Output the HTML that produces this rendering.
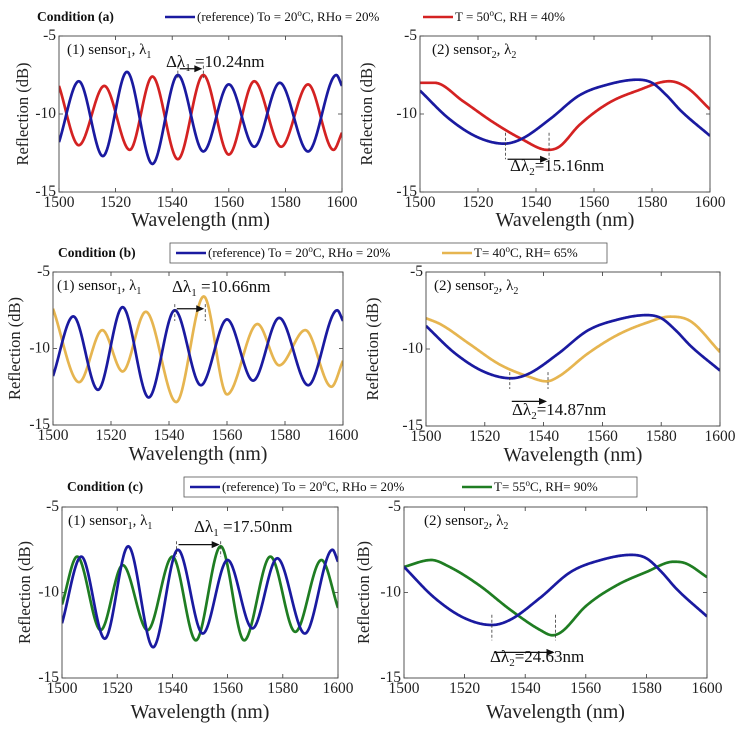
<!DOCTYPE html>
<html><head><meta charset="utf-8">
<style>
html,body{margin:0;padding:0;background:#fff;}
svg{display:block;font-family:"Liberation Serif",serif;}
</style></head>
<body>
<svg id="fig" width="744" height="736" viewBox="0 0 744 736" xmlns="http://www.w3.org/2000/svg"></svg>
<script>
// ---- data (wavelength nm, reflection dB) ----
const xTicks = [1500,1520,1540,1560,1580,1600];
const yTicks = [-5,-10,-15];
// sensor 1 reference (same in all conditions)
const s1RefX = [1500,1507,1515.5,1524,1533,1542,1551,1560,1569,1578,1588,1598,1600];
const s1RefY = [-11.8,-7.9,-12.7,-7.3,-13.2,-7.5,-12.4,-8.1,-12.1,-8.0,-12.4,-7.5,-8.2];
const s1AX = [1500,1507,1516,1525,1533,1542,1551,1560,1569,1578.5,1588,1597,1600];
const s1AY = [-8.2,-12.0,-8.2,-12.3,-7.6,-12.9,-7.5,-12.6,-7.9,-12.1,-8.1,-12.3,-11.2];
const s1BX = [1500,1509,1517,1524,1532,1542.5,1552,1560,1570.5,1578,1587,1596,1600];
const s1BY = [-7.4,-12.2,-8.8,-11.5,-7.6,-13.5,-6.6,-13.0,-8.4,-11.1,-8.8,-12.5,-10.8];
const s1CX = [1500,1505.5,1514,1522,1531,1540,1548.5,1557.5,1566,1575.5,1584.5,1594,1600];
const s1CY = [-10.7,-7.9,-12.2,-8.4,-12.2,-7.9,-12.8,-7.3,-12.8,-7.9,-12.3,-8.1,-10.9];
// sensor 2
const s2RefX = [1500,1510,1520,1529,1535,1545,1555,1565,1575,1580,1585,1590,1600];
const s2RefY = [-8.5,-10.3,-11.5,-11.9,-11.6,-10.3,-8.8,-8.1,-7.8,-8.0,-8.8,-9.8,-11.4];
const s2AX = [1500,1505,1515,1525,1535,1544,1548,1555,1565,1575,1586,1592,1600];
const s2AY = [-8.0,-8.0,-9.2,-10.5,-11.6,-12.3,-12.1,-10.7,-9.3,-8.5,-7.9,-8.3,-9.7];
const s2BX = [1500,1505,1515,1525,1535,1541,1545,1555,1565,1575,1583,1590,1600];
const s2BY = [-8.0,-8.4,-9.7,-11.0,-11.8,-12.1,-11.8,-10.3,-9.1,-8.3,-7.9,-8.2,-10.2];
const s2CX = [1500,1509,1515,1525,1535,1545,1549,1552,1560,1570,1580,1589,1593,1600];
const s2CY = [-8.5,-8.1,-8.5,-9.6,-11.0,-12.2,-12.5,-12.3,-10.8,-9.6,-8.8,-8.2,-8.3,-9.1];

const BLUE="#1a1aa0", RED="#d42222", YEL="#e6b550", GRN="#1f7d22";
const NS="http://www.w3.org/2000/svg";
const svg=document.getElementById('fig');
function mk(tag,attrs,parent,text){
  const e=document.createElementNS(NS,tag);
  for(const k in attrs) e.setAttribute(k,attrs[k]);
  if(text!==undefined) e.textContent=text;
  (parent||svg).appendChild(e); return e;
}
function mono(xs,ys){
  const n=xs.length,d=[],m=[];
  for(let i=0;i<n-1;i++) d.push((ys[i+1]-ys[i])/(xs[i+1]-xs[i]));
  m[0]=d[0]; m[n-1]=d[n-2];
  for(let i=1;i<n-1;i++){ m[i]=(d[i-1]*d[i]<=0)?0:(d[i-1]+d[i])/2; }
  return function(x){
    let i=0; while(i<n-2 && x>xs[i+1]) i++;
    const h=xs[i+1]-xs[i], t=(x-xs[i])/h, t2=t*t, t3=t2*t;
    return (2*t3-3*t2+1)*ys[i]+(t3-2*t2+t)*h*m[i]+(-2*t3+3*t2)*ys[i+1]+(t3-t2)*h*m[i+1];
  };
}
function panel(p){
  const g=mk('g',{});
  
  
  const sx=v=>p.x0+(v-1500)/100*(p.x1-p.x0);
  const sy=v=>p.yt+(-5-v)/10*(p.yb-p.yt);
  const clip='c'+p.name;
  const cp=mk('clipPath',{id:clip},g); mk('rect',{x:p.x0,y:p.yt,width:p.x1-p.x0,height:p.yb-p.yt},cp);
  xTicks.forEach(t=>{
    const x=sx(t);
    const tk=mk('path',{d:`M${x},${p.yb}v-4M${x},${p.yt}v4`,stroke:'#333','stroke-width':0.8},g);
     
    const l=mk('text',{x:x,y:p.yb+15,'text-anchor':'middle','font-size':15.5,fill:'#222'},g,String(t));
     
  });
  yTicks.forEach(t=>{
    const y=sy(t);
    mk('path',{d:`M${p.x0},${y}h4M${p.x1},${y}h-4`,stroke:'#333','stroke-width':0.8},g);
    const l=mk('text',{x:p.x0-3,y:y+4,'text-anchor':'end','font-size':15.5,fill:'#222'},g,String(t));
     
  });
  p.series.forEach(s=>{
    const f=mono(s.x,s.y); let d='';
    for(let w=1500;w<=1600.001;w+=0.25){ d+=(d?'L':'M')+sx(w).toFixed(2)+','+sy(f(w)).toFixed(2); }
    const pa=mk('path',{d:d,fill:'none',stroke:s.c,'stroke-width':2.7,'clip-path':`url(#${clip})`},g);
     
  });
  const fr=mk('rect',{x:p.x0,y:p.yt,width:p.x1-p.x0,height:p.yb-p.yt,fill:'none',stroke:'#444','stroke-width':0.9},g);
   
  const lb=mk('text',{x:p.x0+(p.lx||8),y:p.yt+18,'font-size':15,fill:'#111'},g);
   
  lb.innerHTML=`(${p.k}) sensor<tspan font-size="10" dy="4">${p.k}</tspan><tspan dy="-4">, λ</tspan><tspan font-size="10" dy="4">${p.k}</tspan>`;
  const a=p.ann;
  const ya1=sy(a.y1), ya2=sy(a.y2);
  mk('path',{d:`M${sx(a.w1)},${ya1}V${ya2}M${sx(a.w2)},${ya1}V${ya2}`,stroke:'#333','stroke-width':0.8,'stroke-dasharray':'3,2'},g);
  const ay=sy(a.ay);
  mk('path',{d:`M${sx(a.w1)+2},${ay}H${sx(a.w2)-7}`,stroke:'#111','stroke-width':1.2},g);
  mk('path',{d:`M${sx(a.w2)-1},${ay}l-8,-3.5v7z`,fill:'#111'},g);
  const at=mk('text',{x:a.tx,y:a.ty,'font-size':17,fill:'#111'},g);
   
  at.innerHTML=`Δλ<tspan font-size="11" dy="4">${p.k}</tspan><tspan dy="-4">${a.t}</tspan>`;
  const xl=mk('text',{x:(p.x0+p.x1)/2,y:p.yb+p.xlOff,'text-anchor':'middle','font-size':20,fill:'#222'},g,'Wavelength (nm)');
   
  const yl=mk('text',{x:0,y:0,'text-anchor':'middle','font-size':16.5,fill:'#222',transform:`translate(${p.ylx},${(p.yt+p.yb)/2}) rotate(-90)`},g,'Reflection (dB)');
   
}
function legend(L){
  const g=mk('g',{});
   
  const c=mk('text',{x:L.cx,y:L.y+4,'font-size':13.5,'font-weight':'bold',fill:'#111'},g,L.cond);
   
  if(L.box) mk('rect',{x:L.box[0],y:L.y-10,width:L.box[1]-L.box[0],height:20,fill:'#fff',stroke:'#555','stroke-width':0.8},g);
  mk('path',{d:`M${L.l1},${L.y}h30`,stroke:BLUE,'stroke-width':2.6},g);
  const t1=mk('text',{x:L.l1+32,y:L.y+4,'font-size':13,fill:'#111'},g);
   
  t1.innerHTML='(reference) To = 20<tspan font-size="9" dy="-5">o</tspan><tspan dy="5">C, RHo = 20%</tspan>';
  mk('path',{d:`M${L.l2},${L.y}h30`,stroke:L.c,'stroke-width':2.6},g);
  const t2=mk('text',{x:L.l2+32,y:L.y+4,'font-size':13,fill:'#111'},g);
   
  t2.innerHTML=`${L.t2a}<tspan font-size="9" dy="-5">o</tspan><tspan dy="5">${L.t2b}</tspan>`;
}
legend({name:'legend-a',cond:'Condition (a)',cx:37,y:17,l1:165,l2:423,c:RED,t2a:'T = 50',t2b:'C, RH = 40%'});
legend({name:'legend-b',cond:'Condition (b)',cx:58,y:253,box:[170,607],l1:176,l2:442,c:YEL,t2a:'T= 40',t2b:'C, RH= 65%'});
legend({name:'legend-c',cond:'Condition (c)',cx:67,y:487,box:[184,637],l1:190,l2:462,c:GRN,t2a:'T= 55',t2b:'C, RH= 90%'});

panel({name:'panel-a1',k:1,x0:59,x1:342,yt:36,yb:192,xlOff:34,ylx:28,
  series:[{x:s1AX,y:s1AY,c:RED,n:'line-a-sensor1'},{x:s1RefX,y:s1RefY,c:BLUE,n:'line-ref-sensor1'}],
  ann:{w1:1542,w2:1551,y1:-6.9,y2:-7.7,ay:-7.1,t:' =10.24nm',tx:166,ty:67}});
panel({name:'panel-a2',k:2,x0:420,x1:710,yt:36,yb:192,xlOff:34,ylx:372,lx:12,
  series:[{x:s2AX,y:s2AY,c:RED,n:'line-a-sensor2'},{x:s2RefX,y:s2RefY,c:BLUE,n:'line-ref-sensor2'}],
  ann:{w1:1529.5,w2:1544.5,y1:-11.2,y2:-12.9,ay:-12.9,t:'=15.16nm',tx:510,ty:171}});
panel({name:'panel-b1',k:1,x0:53,x1:343,yt:272,yb:425,xlOff:35,ylx:20,lx:4,
  series:[{x:s1BX,y:s1BY,c:YEL,n:'line-b-sensor1'},{x:s1RefX,y:s1RefY,c:BLUE,n:'line-ref-sensor1'}],
  ann:{w1:1542,w2:1552.5,y1:-7.1,y2:-8.2,ay:-7.4,t:' =10.66nm',tx:172,ty:292}});
panel({name:'panel-b2',k:2,x0:426,x1:720,yt:272,yb:426,xlOff:35,ylx:378,
  series:[{x:s2BX,y:s2BY,c:YEL,n:'line-b-sensor2'},{x:s2RefX,y:s2RefY,c:BLUE,n:'line-ref-sensor2'}],
  ann:{w1:1528.5,w2:1541.5,y1:-11.5,y2:-12.6,ay:-13.4,t:'=14.87nm',tx:512,ty:415}});
panel({name:'panel-c1',k:1,x0:62,x1:338,yt:507,yb:678,xlOff:40,ylx:30,lx:6,
  series:[{x:s1CX,y:s1CY,c:GRN,n:'line-c-sensor1'},{x:s1RefX,y:s1RefY,c:BLUE,n:'line-ref-sensor1'}],
  ann:{w1:1541.5,w2:1557.5,y1:-7.0,y2:-7.9,ay:-7.2,t:' =17.50nm',tx:194,ty:532}});
panel({name:'panel-c2',k:2,x0:404,x1:707,yt:507,yb:678,xlOff:40,ylx:369,lx:20,
  series:[{x:s2CX,y:s2CY,c:GRN,n:'line-c-sensor2'},{x:s2RefX,y:s2RefY,c:BLUE,n:'line-ref-sensor2'}],
  ann:{w1:1529,w2:1550,y1:-11.3,y2:-12.8,ay:-13.5,t:'=24.63nm',tx:490,ty:662}});
</script>
</body></html>
